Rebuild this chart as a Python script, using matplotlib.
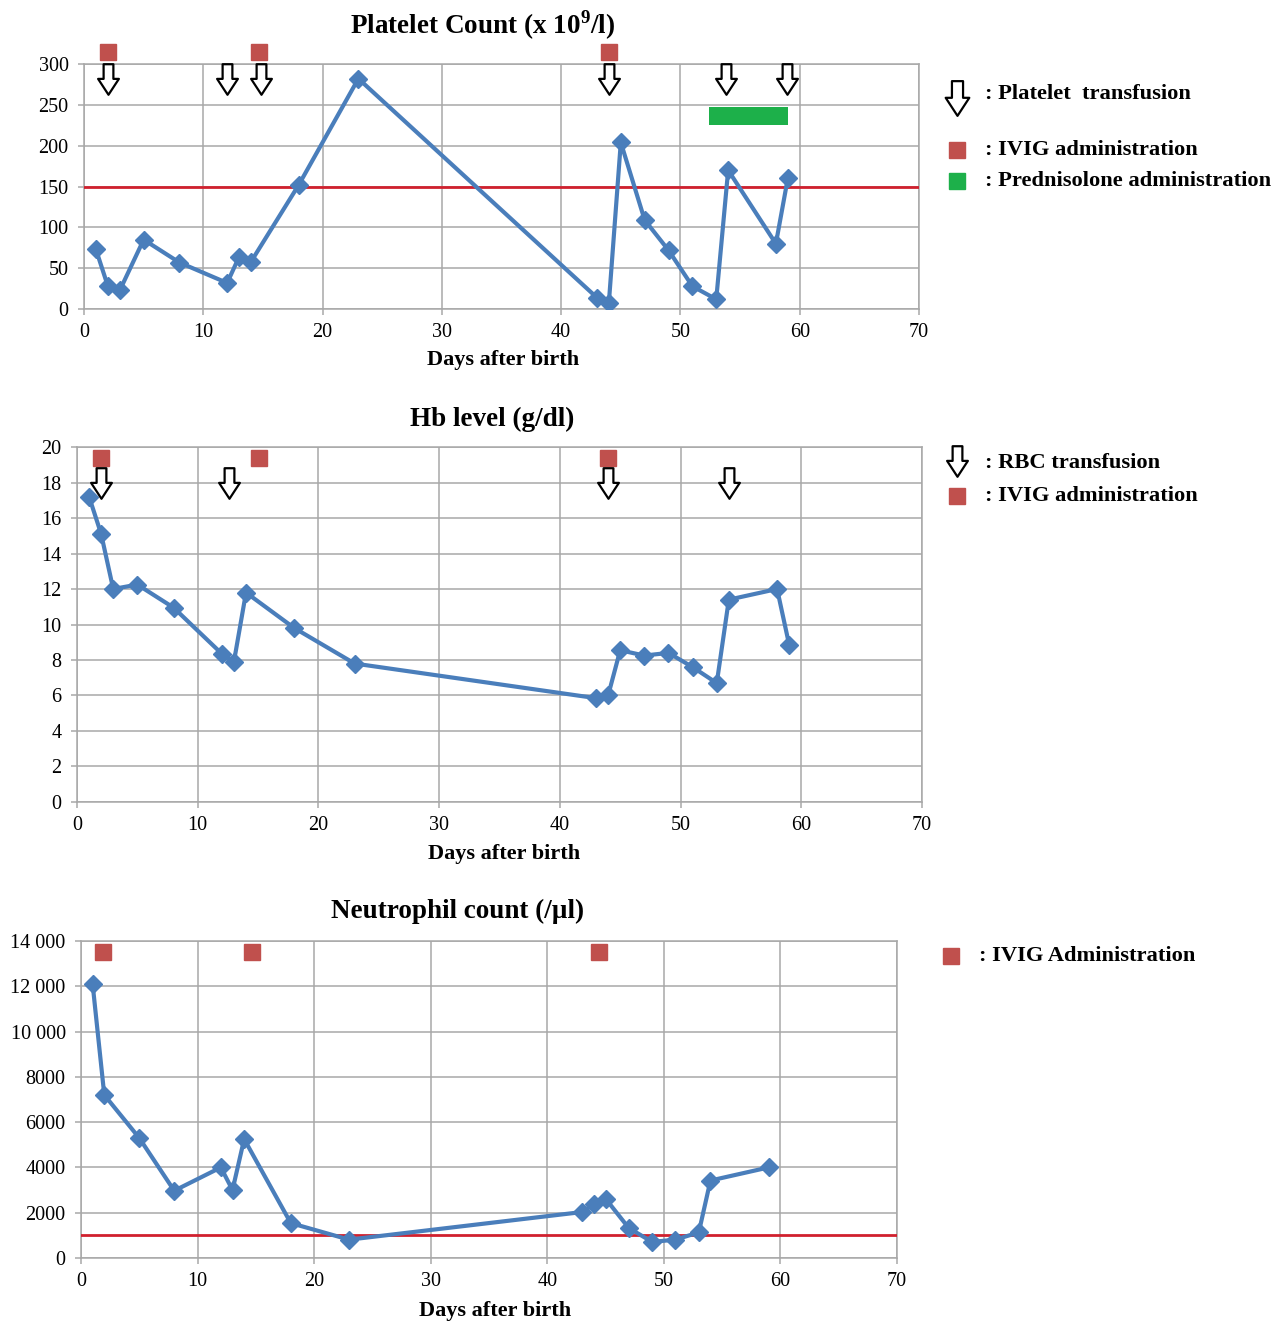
import matplotlib
matplotlib.use('Agg')
import matplotlib.pyplot as plt
from matplotlib.path import Path
from matplotlib.lines import Line2D
from matplotlib.ticker import FixedLocator, FixedFormatter

plt.rcParams['font.family'] = ['Liberation Serif', 'DejaVu Serif']
plt.rcParams['mathtext.fontset'] = 'custom'
plt.rcParams['mathtext.rm'] = 'Liberation Serif'
plt.rcParams['mathtext.bf'] = 'Liberation Serif:bold'

# days after birth
days_plt = [1, 2, 3, 5, 8, 12, 13, 14, 18, 23, 43, 44, 45, 47, 49, 51, 53, 54, 58, 59]
platelets = [73, 28, 23, 85, 57, 32, 64, 58, 152, 282, 14, 8, 204, 109, 72, 28, 12, 170, 80, 160]

days_hb = [1, 2, 3, 5, 8, 12, 13, 14, 18, 23, 43, 44, 45, 47, 49, 51, 53, 54, 58, 59]
hb = [17.2, 15.1, 12.0, 12.25, 10.95, 8.35, 7.9, 11.8, 9.8, 7.8, 5.85, 6.0, 8.55, 8.25, 8.4, 7.6, 6.7, 11.4, 12.0, 8.85]

days_neu = [1, 2, 5, 8, 12, 13, 14, 18, 23, 43, 44, 45, 47, 49, 51, 53, 54, 59]
neutrophils = [12100, 7200, 5300, 2970, 4000, 3000, 5250, 1540, 810, 2030, 2380, 2620, 1320, 710, 810, 1130, 3420, 4000]

# reference lines
plt_limit = 150
neu_limit = 1000

# events
ivig_plt = [2, 14.7, 44]
ptx_days = [2, 12, 14.8, 44, 53.8, 58.9]
pred_start, pred_end = 52.4, 59.0
pred_low, pred_high = 225, 247

ivig_hb = [1.95, 15.1, 44]
rbc_days = [2, 12.6, 44, 54]

ivig_neu = [1.9, 14.7, 44.4]

plt_ticks = [0, 50, 100, 150, 200, 250, 300]
hb_ticks = [0, 2, 4, 6, 8, 10, 12, 14, 16, 18, 20]
neu_ticks = [0, 2000, 4000, 6000, 8000, 10000, 12000, 14000]
neu_labels = ['0', '2000', '4000', '6000', '8000', '10 000', '12 000', '14 000']
x_ticks = [0, 10, 20, 30, 40, 50, 60, 70]

blue = '#4a7ebb'
red_sq = '#c0504d'
red_line = '#d0202e'
green = '#1db04a'
grid_c = '#a8a8a8'

# hollow down arrow marker
arrow = Path([(-0.16, 0.5), (0.16, 0.5), (0.16, 0.02), (0.34, 0.02), (0.0, -0.5),
              (-0.34, 0.02), (-0.16, 0.02), (-0.16, 0.5)],
             [Path.MOVETO] + [Path.LINETO] * 6 + [Path.CLOSEPOLY])

fig = plt.figure(figsize=(12.75, 13.21), dpi=100)
ax1 = fig.add_axes([0.0659, 0.766, 0.6549, 0.1856])
ax2 = fig.add_axes([0.0604, 0.3929, 0.6627, 0.2687])
ax3 = fig.add_axes([0.0635, 0.0477, 0.64, 0.24])


def style(ax, ticks, top):
    ax.set_xlim(0, 70)
    ax.set_ylim(0, top)
    ax.xaxis.set_major_locator(FixedLocator(x_ticks))
    ax.yaxis.set_major_locator(FixedLocator(ticks))
    ax.grid(True, color=grid_c, linewidth=1.1)
    ax.set_axisbelow(True)
    for s in ax.spines.values():
        s.set_color(grid_c)
        s.set_linewidth(1.1)
    ax.tick_params(colors=grid_c, labelcolor='black', labelsize=14.5, length=4, width=1.1)
    ax.tick_params(axis='x', pad=6)
    ax.tick_params(axis='y', pad=7)


def series(ax, x, y):
    ax.plot(x, y, color=blue, linewidth=3, marker='D', markersize=9.5,
            markerfacecolor=blue, markeredgecolor=blue, zorder=4)


def squares(ax, x, y):
    ax.plot(x, [y] * len(x), linestyle='none', marker='s', markersize=11,
            color=red_sq, clip_on=False, zorder=5)


def arrows(ax, x, y):
    ax.plot(x, [y] * len(x), linestyle='none', marker=arrow, markersize=22,
            markerfacecolor='white', markeredgecolor='black', markeredgewidth=1.6,
            clip_on=False, zorder=6)


def fig_marker(x, y, **kw):
    fig.add_artist(Line2D([x / 1275], [1 - y / 1321], transform=fig.transFigure,
                          linestyle='none', **kw))


def fig_label(x, y, s, size=16.2):
    fig.text(x / 1275, 1 - y / 1321, s, fontsize=size, fontweight='bold',
             ha='left', va='center')


# platelets
style(ax1, plt_ticks, 300)
ax1.axhline(plt_limit, color=red_line, linewidth=2, zorder=3)
series(ax1, days_plt, platelets)
ax1.barh((pred_low + pred_high) / 2, pred_end - pred_start, height=pred_high - pred_low,
         left=pred_start, color=green, zorder=5)
squares(ax1, ivig_plt, 314)
arrows(ax1, ptx_days, 281)
fig.text(483 / 1275, 1 - 25 / 1321, r'Platelet Count (x 10$^{\mathbf{9}}$/l)',
         fontsize=19.5, fontweight='bold', ha='center', va='center')
fig.text(503 / 1275, 1 - 360 / 1321, 'Days after birth', fontsize=16,
         fontweight='bold', ha='center', va='center')

fig_marker(957, 98, marker=arrow, markersize=25, markerfacecolor='white',
           markeredgecolor='black', markeredgewidth=1.6)
fig_label(985, 94, ': Platelet  transfusion')
fig_marker(957, 150, marker='s', markersize=11, color=red_sq)
fig_label(985, 150, ': IVIG administration')
fig_marker(957, 181, marker='s', markersize=11, color=green)
fig_label(985, 181, ': Prednisolone administration')

# hb
style(ax2, hb_ticks, 20)
series(ax2, days_hb, hb)
squares(ax2, ivig_hb, 19.38)
arrows(ax2, rbc_days, 17.95)
fig.text(492 / 1275, 1 - 419 / 1321, 'Hb level (g/dl)', fontsize=19.5,
         fontweight='bold', ha='center', va='center')
fig.text(504 / 1275, 1 - 854 / 1321, 'Days after birth', fontsize=16,
         fontweight='bold', ha='center', va='center')

fig_marker(957, 461, marker=arrow, markersize=22, markerfacecolor='white',
           markeredgecolor='black', markeredgewidth=1.6)
fig_label(985, 463, ': RBC transfusion')
fig_marker(957, 496, marker='s', markersize=11, color=red_sq)
fig_label(985, 496, ': IVIG administration')

# neutrophils
style(ax3, neu_ticks, 14000)
ax3.yaxis.set_major_formatter(FixedFormatter(neu_labels))
ax3.axhline(neu_limit, color=red_line, linewidth=2, zorder=3)
series(ax3, days_neu, neutrophils)
squares(ax3, ivig_neu, 13530)
fig.text(458 / 1275, 1 - 911 / 1321, 'Neutrophil count (/\u00b5l)', fontsize=19.5,
         fontweight='bold', ha='center', va='center')
fig.text(495 / 1275, 1 - 1311 / 1321, 'Days after birth', fontsize=16,
         fontweight='bold', ha='center', va='center')

fig_marker(951, 956, marker='s', markersize=11, color=red_sq)
fig_label(979, 956, ': IVIG Administration')

fig.savefig('out.png', dpi=100)
